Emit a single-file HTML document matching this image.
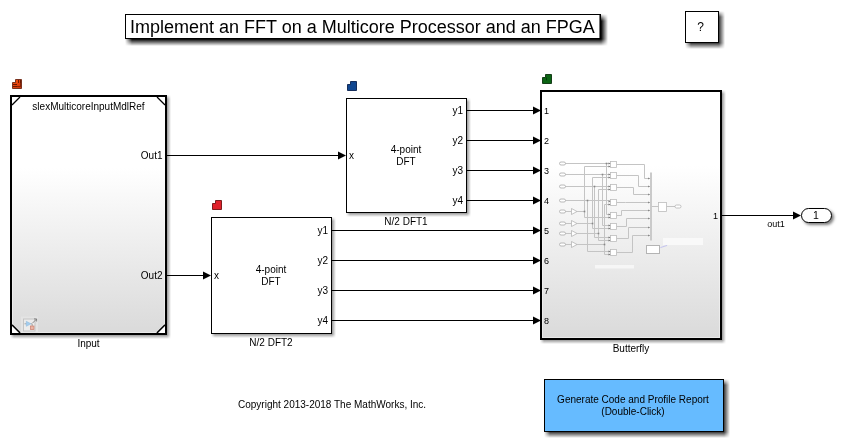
<!DOCTYPE html>
<html><head><meta charset="utf-8">
<style>
html,body{margin:0;padding:0;background:#fff;}
body{width:842px;height:442px;position:relative;overflow:hidden;font-family:"Liberation Sans",sans-serif;}
.b{position:absolute;box-sizing:border-box;}
.sh{position:absolute;}
#title{left:125px;top:14px;width:476px;height:25px;border:1px solid #000;background:#fff;box-shadow:inset -1px 0 0 rgba(0,0,0,0.55);}
#help{left:685px;top:11px;width:34px;height:32px;border:1px solid #000;background:#fff;}
#inp{left:10px;top:95px;width:157px;height:240px;border:2px solid #000;background:linear-gradient(#fff 30%,#dadada);box-shadow:inset 0 0 0 1px rgba(255,255,255,0.4);}
#dft1{left:346px;top:98px;width:121px;height:115px;border:1px solid #000;background:#fff;}
#dft2{left:211px;top:217px;width:121px;height:117px;border:1px solid #000;background:#fff;}
#bfly{left:540px;top:90px;width:182px;height:250px;border:2px solid #000;background:linear-gradient(#fff 30%,#dadada);box-shadow:inset 0 0 0 1px rgba(255,255,255,0.4);}
#btn{left:544px;top:379px;width:180px;height:53px;border:1px solid #000;background:#66bbff;}
#outp{left:801px;top:208px;width:31px;height:15px;border:1px solid #000;border-radius:8px;background:#fff;box-shadow:2px 2px 3px rgba(0,0,0,0.5);}
svg{position:absolute;left:0;top:0;will-change:transform;}
text{font-family:"Liberation Sans",sans-serif;fill:#000;}
</style></head><body>
<div class="sh" style="left:125.0px;top:14.0px;width:483px;height:32px;background:linear-gradient(to right,rgba(0,0,0,0) 0px,rgba(0,0,0,1) 7px,rgba(0,0,0,1) calc(100% - 7px),rgba(0,0,0,0) 100%);-webkit-mask-image:linear-gradient(to bottom,rgba(0,0,0,0) 0px,#000 7px,#000 calc(100% - 7px),rgba(0,0,0,0) 100%);mask-image:linear-gradient(to bottom,rgba(0,0,0,0) 0px,#000 7px,#000 calc(100% - 7px),rgba(0,0,0,0) 100%);"></div>
<div class="sh" style="left:685.0px;top:11.0px;width:40px;height:38px;background:linear-gradient(to right,rgba(0,0,0,0) 0px,rgba(0,0,0,0.78) 6px,rgba(0,0,0,0.78) calc(100% - 6px),rgba(0,0,0,0) 100%);-webkit-mask-image:linear-gradient(to bottom,rgba(0,0,0,0) 0px,#000 6px,#000 calc(100% - 6px),rgba(0,0,0,0) 100%);mask-image:linear-gradient(to bottom,rgba(0,0,0,0) 0px,#000 6px,#000 calc(100% - 6px),rgba(0,0,0,0) 100%);"></div>
<div class="sh" style="left:544.0px;top:378.5px;width:186px;height:59px;background:linear-gradient(to right,rgba(0,0,0,0) 0px,rgba(0,0,0,0.78) 6px,rgba(0,0,0,0.78) calc(100% - 6px),rgba(0,0,0,0) 100%);-webkit-mask-image:linear-gradient(to bottom,rgba(0,0,0,0) 0px,#000 6px,#000 calc(100% - 6px),rgba(0,0,0,0) 100%);mask-image:linear-gradient(to bottom,rgba(0,0,0,0) 0px,#000 6px,#000 calc(100% - 6px),rgba(0,0,0,0) 100%);"></div>
<div class="sh" style="left:10.0px;top:95.0px;width:161px;height:244px;background:linear-gradient(to right,rgba(0,0,0,0) 0px,rgba(0,0,0,0.4) 4px,rgba(0,0,0,0.4) calc(100% - 4px),rgba(0,0,0,0) 100%);-webkit-mask-image:linear-gradient(to bottom,rgba(0,0,0,0) 0px,#000 4px,#000 calc(100% - 4px),rgba(0,0,0,0) 100%);mask-image:linear-gradient(to bottom,rgba(0,0,0,0) 0px,#000 4px,#000 calc(100% - 4px),rgba(0,0,0,0) 100%);"></div>
<div class="sh" style="left:346.0px;top:98.0px;width:125px;height:119px;background:linear-gradient(to right,rgba(0,0,0,0) 0px,rgba(0,0,0,0.4) 4px,rgba(0,0,0,0.4) calc(100% - 4px),rgba(0,0,0,0) 100%);-webkit-mask-image:linear-gradient(to bottom,rgba(0,0,0,0) 0px,#000 4px,#000 calc(100% - 4px),rgba(0,0,0,0) 100%);mask-image:linear-gradient(to bottom,rgba(0,0,0,0) 0px,#000 4px,#000 calc(100% - 4px),rgba(0,0,0,0) 100%);"></div>
<div class="sh" style="left:211.0px;top:217.0px;width:125px;height:121px;background:linear-gradient(to right,rgba(0,0,0,0) 0px,rgba(0,0,0,0.4) 4px,rgba(0,0,0,0.4) calc(100% - 4px),rgba(0,0,0,0) 100%);-webkit-mask-image:linear-gradient(to bottom,rgba(0,0,0,0) 0px,#000 4px,#000 calc(100% - 4px),rgba(0,0,0,0) 100%);mask-image:linear-gradient(to bottom,rgba(0,0,0,0) 0px,#000 4px,#000 calc(100% - 4px),rgba(0,0,0,0) 100%);"></div>
<div class="sh" style="left:540.0px;top:90.0px;width:186px;height:254px;background:linear-gradient(to right,rgba(0,0,0,0) 0px,rgba(0,0,0,0.4) 4px,rgba(0,0,0,0.4) calc(100% - 4px),rgba(0,0,0,0) 100%);-webkit-mask-image:linear-gradient(to bottom,rgba(0,0,0,0) 0px,#000 4px,#000 calc(100% - 4px),rgba(0,0,0,0) 100%);mask-image:linear-gradient(to bottom,rgba(0,0,0,0) 0px,#000 4px,#000 calc(100% - 4px),rgba(0,0,0,0) 100%);"></div>
<div class="b" id="title"></div>
<div class="b" id="help"></div>
<div class="b" id="inp"></div>
<div class="b" id="dft1"></div>
<div class="b" id="dft2"></div>
<div class="b" id="bfly"></div>
<div class="b" id="btn"></div>
<div class="b" id="outp"></div>

<svg width="842" height="442" viewBox="0 0 842 442">
<!-- title text -->
<text x="130" y="33" font-size="18">Implement an FFT on a Multicore Processor and an FPGA</text>
<text x="700.7" y="31" font-size="12" text-anchor="middle">?</text>

<!-- input block corners -->
<g fill="#fff" stroke="#000" stroke-width="1.2">
<path d="M12 105 L20 97" />
<path d="M157 97 L165 105" />
<path d="M12 325 L20 333" fill="none"/>
<path d="M157 333 L165 325" />
</g>
<path d="M12 325 L20 333 L12 333Z" fill="#fff"/>
<path d="M165 325 L157 333 L165 333Z" fill="#fff"/>
<g stroke="#000" stroke-width="1.2"><path d="M12 325 L20 333"/><path d="M157 333 L165 325"/></g>

<text x="88.5" y="110" font-size="10" text-anchor="middle" fill="#222">slexMulticoreInputMdlRef</text>
<text x="162.5" y="158.7" font-size="10" text-anchor="end">Out1</text>
<text x="162.5" y="278.7" font-size="10" text-anchor="end">Out2</text>
<text x="88.5" y="346.6" font-size="10" text-anchor="middle">Input</text>

<!-- input icon bottom-left -->
<rect x="21" y="316.5" width="17" height="16" fill="#e4e4e4"/>
<rect x="23.5" y="319" width="11.5" height="12" fill="#ececec" stroke="#c2c2c2" stroke-width="0.9"/>
<path d="M24.5 323.8 H26.5 M31 323.8 H32.2 V326" stroke="#888" stroke-width="0.7" fill="none"/>
<path d="M26.3 321.3 L31 323.8 L26.3 326.3Z" fill="#a4cdee" stroke="#86b6dc" stroke-width="0.5"/>
<rect x="30.4" y="326" width="3.6" height="3.6" fill="#ecb4a4" stroke="#c88070" stroke-width="0.7"/>
<path d="M32.6 323 L36.4 319.2 M34 318.9 H36.6 V321.5" stroke="#6a6a6a" stroke-width="0.75" fill="none"/>

<!-- sample time icons -->
<defs><linearGradient id="og" x1="0" y1="0" x2="1" y2="1"><stop offset="0" stop-color="#ff5a14"/><stop offset="1" stop-color="#c83006"/></linearGradient></defs>
<path d="M12.5 82.5 H15.5 V79.5 H21.5 V88.5 H12.5Z" fill="url(#og)" stroke="#5a1606" stroke-width="0.8"/>
<g fill="#6a1802">
<rect x="13" y="84" width="4" height="1"/><rect x="13" y="86" width="4" height="1"/>
<rect x="18" y="80" width="1" height="3"/><rect x="20" y="80" width="1" height="3"/>
<rect x="17" y="86" width="3" height="1" opacity="0.7"/><rect x="20" y="83" width="1" height="4" opacity="0.7"/>
</g>
<path d="M212.5 203.5 H215.5 V200.5 H221.5 V209.5 H212.5Z" fill="#e0202a" stroke="#6a0808" stroke-width="0.85"/>
<path d="M347.5 84.5 H350.5 V81.5 H356.5 V90.5 H347.5Z" fill="#104690" stroke="#021a48" stroke-width="0.85"/>
<path d="M542.5 77.5 H545.5 V74.5 H551.5 V83.5 H542.5Z" fill="#0b6414" stroke="#022a06" stroke-width="0.85"/>
<rect x="546" y="77.5" width="1" height="2.8" fill="#022a06" opacity="0.7"/>

<!-- DFT1 -->
<text x="406" y="153" font-size="10" text-anchor="middle">4-point</text>
<text x="406" y="165" font-size="10" text-anchor="middle">DFT</text>
<text x="349" y="158.7" font-size="10">x</text>
<text x="463" y="114" font-size="10" text-anchor="end">y1</text>
<text x="463" y="144" font-size="10" text-anchor="end">y2</text>
<text x="463" y="174" font-size="10" text-anchor="end">y3</text>
<text x="463" y="204" font-size="10" text-anchor="end">y4</text>
<text x="406" y="225" font-size="10" text-anchor="middle">N/2 DFT1</text>

<!-- DFT2 -->
<text x="271" y="273" font-size="10" text-anchor="middle">4-point</text>
<text x="271" y="285" font-size="10" text-anchor="middle">DFT</text>
<text x="214" y="278.7" font-size="10">x</text>
<text x="328" y="234" font-size="10" text-anchor="end">y1</text>
<text x="328" y="264" font-size="10" text-anchor="end">y2</text>
<text x="328" y="294" font-size="10" text-anchor="end">y3</text>
<text x="328" y="324" font-size="10" text-anchor="end">y4</text>
<text x="271" y="345.5" font-size="10" text-anchor="middle">N/2 DFT2</text>

<g id="thumb">
<path d="M565 163.5 H610 M606.5 163.5 V214.5 H610 M565 174.5 H610 M602.5 174.5 V225.5 H610 M565 186.5 H610 M594.5 186.5 V237.5 H610 M565 200.5 H610 M587.5 200.5 V251.5 H610 M580 211.5 H584.5 M584.5 166.5 V217.5 M584.5 166.5 H610 M584.5 217.5 H610 M580 223.5 H592.5 M592.5 177.5 V228.5 M592.5 177.5 H610 M592.5 228.5 H610 M580 233.5 H598.5 M598.5 189.5 V240.5 M598.5 189.5 H610 M598.5 240.5 H610 M580 244.5 H604.5 M604.5 204.5 V254.5 M604.5 204.5 H610 M604.5 254.5 H610 M565 211.5 H571 M577 211.5 H580 M565 223.5 H571 M577 223.5 H580 M565 233.5 H571 M577 233.5 H580 M565 244.5 H571 M577 244.5 H580 M617 164.5 H644.5 V178.5 H650 M617 175.5 H638.5 V186.5 H650 M617 187.5 H633.5 V194.5 H650 M617 202.5 H625.5 V202.5 H650 M617 215.5 H621.5 V210.5 H650 M617 226.5 H626.5 V218.5 H650 M617 238.5 H628.5 V227.5 H650 M617 252.5 H632.5 V235.5 H650 M652 206.5 H658.5 M666.5 206.5 H675" stroke="#c4c4c4" stroke-width="1" fill="none"/>
<rect x="559.5" y="162.0" width="6" height="3" rx="1.5" fill="#fff" stroke="#a8a8a8" stroke-width="0.8"/>
<rect x="559.5" y="173.0" width="6" height="3" rx="1.5" fill="#fff" stroke="#a8a8a8" stroke-width="0.8"/>
<rect x="559.5" y="185.0" width="6" height="3" rx="1.5" fill="#fff" stroke="#a8a8a8" stroke-width="0.8"/>
<rect x="559.5" y="199.0" width="6" height="3" rx="1.5" fill="#fff" stroke="#a8a8a8" stroke-width="0.8"/>
<rect x="559.5" y="210.0" width="6" height="3" rx="1.5" fill="#fff" stroke="#a8a8a8" stroke-width="0.8"/>
<rect x="559.5" y="222.0" width="6" height="3" rx="1.5" fill="#fff" stroke="#a8a8a8" stroke-width="0.8"/>
<rect x="559.5" y="232.0" width="6" height="3" rx="1.5" fill="#fff" stroke="#a8a8a8" stroke-width="0.8"/>
<rect x="559.5" y="243.0" width="6" height="3" rx="1.5" fill="#fff" stroke="#a8a8a8" stroke-width="0.8"/>
<path d="M571.5 208.5 L577 211.5 L571.5 214.5Z" fill="#fff" stroke="#aaa" stroke-width="0.7"/>
<path d="M571.5 220.5 L577 223.5 L571.5 226.5Z" fill="#fff" stroke="#aaa" stroke-width="0.7"/>
<path d="M571.5 230.5 L577 233.5 L571.5 236.5Z" fill="#fff" stroke="#aaa" stroke-width="0.7"/>
<path d="M571.5 241.5 L577 244.5 L571.5 247.5Z" fill="#fff" stroke="#aaa" stroke-width="0.7"/>
<rect x="610.5" y="161.5" width="6" height="6" fill="#fff" stroke="#bcbcbc" stroke-width="0.8"/>
<path d="M608.5 162.5 L610.5 163.5 L608.5 164.5Z M608.5 165.5 L610.5 166.5 L608.5 167.5Z" fill="#777"/>
<rect x="610.5" y="172.5" width="6" height="6" fill="#fff" stroke="#bcbcbc" stroke-width="0.8"/>
<path d="M608.5 173.5 L610.5 174.5 L608.5 175.5Z M608.5 176.5 L610.5 177.5 L608.5 178.5Z" fill="#777"/>
<rect x="610.5" y="184.5" width="6" height="6" fill="#fff" stroke="#bcbcbc" stroke-width="0.8"/>
<path d="M608.5 185.5 L610.5 186.5 L608.5 187.5Z M608.5 188.5 L610.5 189.5 L608.5 190.5Z" fill="#777"/>
<rect x="610.5" y="199.5" width="6" height="6" fill="#fff" stroke="#bcbcbc" stroke-width="0.8"/>
<path d="M608.5 200.5 L610.5 201.5 L608.5 202.5Z M608.5 203.5 L610.5 204.5 L608.5 205.5Z" fill="#777"/>
<rect x="610.5" y="212.5" width="6" height="6" fill="#fff" stroke="#bcbcbc" stroke-width="0.8"/>
<path d="M608.5 213.5 L610.5 214.5 L608.5 215.5Z M608.5 216.5 L610.5 217.5 L608.5 218.5Z" fill="#777"/>
<rect x="610.5" y="223.5" width="6" height="6" fill="#fff" stroke="#bcbcbc" stroke-width="0.8"/>
<path d="M608.5 224.5 L610.5 225.5 L608.5 226.5Z M608.5 227.5 L610.5 228.5 L608.5 229.5Z" fill="#777"/>
<rect x="610.5" y="235.5" width="6" height="6" fill="#fff" stroke="#bcbcbc" stroke-width="0.8"/>
<path d="M608.5 236.5 L610.5 237.5 L608.5 238.5Z M608.5 239.5 L610.5 240.5 L608.5 241.5Z" fill="#777"/>
<rect x="610.5" y="249.5" width="6" height="6" fill="#fff" stroke="#bcbcbc" stroke-width="0.8"/>
<path d="M608.5 250.5 L610.5 251.5 L608.5 252.5Z M608.5 253.5 L610.5 254.5 L608.5 255.5Z" fill="#777"/>
<path d="M648 177.5 L650 178.5 L648 179.5Z" fill="#888"/>
<path d="M648 185.5 L650 186.5 L648 187.5Z" fill="#888"/>
<path d="M648 193.5 L650 194.5 L648 195.5Z" fill="#888"/>
<path d="M648 201.5 L650 202.5 L648 203.5Z" fill="#888"/>
<path d="M648 209.5 L650 210.5 L648 211.5Z" fill="#888"/>
<path d="M648 217.5 L650 218.5 L648 219.5Z" fill="#888"/>
<path d="M648 226.5 L650 227.5 L648 228.5Z" fill="#888"/>
<path d="M648 234.5 L650 235.5 L648 236.5Z" fill="#888"/>
<rect x="650" y="172.5" width="2" height="68" fill="#cacaca"/>
<rect x="658.5" y="202.5" width="8" height="9" fill="#fff" stroke="#bcbcbc" stroke-width="0.8"/>
<rect x="675" y="205" width="6" height="3" rx="1.5" fill="#fff" stroke="#aaa" stroke-width="0.7"/>
<rect x="646.5" y="245.5" width="13" height="8" fill="#fff" stroke="#b4b4b4" stroke-width="1"/>
<rect x="663" y="238" width="40" height="7" fill="#f9f9f9"/>
<rect x="595" y="265" width="39" height="3.5" fill="#f6f6f6"/>
<path d="M660.4 247.6 L667.1 245.4" stroke="#a8a8f0" stroke-width="0.6"/>
<rect x="605.7" y="162.7" width="1.6" height="1.6" fill="#888"/>
<rect x="601.7" y="173.7" width="1.6" height="1.6" fill="#888"/>
<rect x="593.7" y="185.7" width="1.6" height="1.6" fill="#888"/>
<rect x="586.7" y="199.7" width="1.6" height="1.6" fill="#888"/>
<rect x="583.7" y="210.7" width="1.6" height="1.6" fill="#888"/>
<rect x="591.7" y="222.7" width="1.6" height="1.6" fill="#888"/>
<rect x="597.7" y="232.7" width="1.6" height="1.6" fill="#888"/>
<rect x="603.7" y="243.7" width="1.6" height="1.6" fill="#888"/>
</g>

<!-- butterfly ports -->
<g font-size="9">
<text x="544" y="114">1</text>
<text x="544" y="144">2</text>
<text x="544" y="174">3</text>
<text x="544" y="204">4</text>
<text x="544" y="234">5</text>
<text x="544" y="264">6</text>
<text x="544" y="294">7</text>
<text x="544" y="324">8</text>
<text x="718" y="219" text-anchor="end">1</text>
</g>
<text x="631" y="351.5" font-size="10" text-anchor="middle">Butterfly</text>
<text x="776" y="227" font-size="9" text-anchor="middle">out1</text>
<text x="816" y="219" font-size="10.5" text-anchor="middle">1</text>

<!-- lines -->
<g stroke="#000" stroke-width="1" fill="none">
<path d="M167 155.5 H339"/>
<path d="M167 275.5 H204"/>
<path d="M467 110.5 H534"/>
<path d="M467 140.5 H534"/>
<path d="M467 170.5 H534"/>
<path d="M467 200.5 H534"/>
<path d="M332 230.5 H534"/>
<path d="M332 260.5 H534"/>
<path d="M332 290.5 H534"/>
<path d="M332 320.5 H534"/>
<path d="M722 215.5 H794"/>
</g>
<g fill="#000">
<path d="M338 151.5 L346 155.5 L338 159.5Z"/>
<path d="M203 271.5 L211 275.5 L203 279.5Z"/>
<path d="M533 106.5 L541 110.5 L533 114.5Z"/>
<path d="M533 136.5 L541 140.5 L533 144.5Z"/>
<path d="M533 166.5 L541 170.5 L533 174.5Z"/>
<path d="M533 196.5 L541 200.5 L533 204.5Z"/>
<path d="M533 226.5 L541 230.5 L533 234.5Z"/>
<path d="M533 256.5 L541 260.5 L533 264.5Z"/>
<path d="M533 286.5 L541 290.5 L533 294.5Z"/>
<path d="M533 316.5 L541 320.5 L533 324.5Z"/>
<path d="M793 211.5 L801 215.5 L793 219.5Z"/>
</g>

<text x="238" y="408" font-size="10" fill="#222">Copyright 2013-2018 The MathWorks, Inc.</text>
<text x="633" y="403" font-size="10" text-anchor="middle" fill="#111">Generate Code and Profile Report</text>
<text x="633" y="415" font-size="10" text-anchor="middle" fill="#111">(Double-Click)</text>
</svg>
</body></html>
